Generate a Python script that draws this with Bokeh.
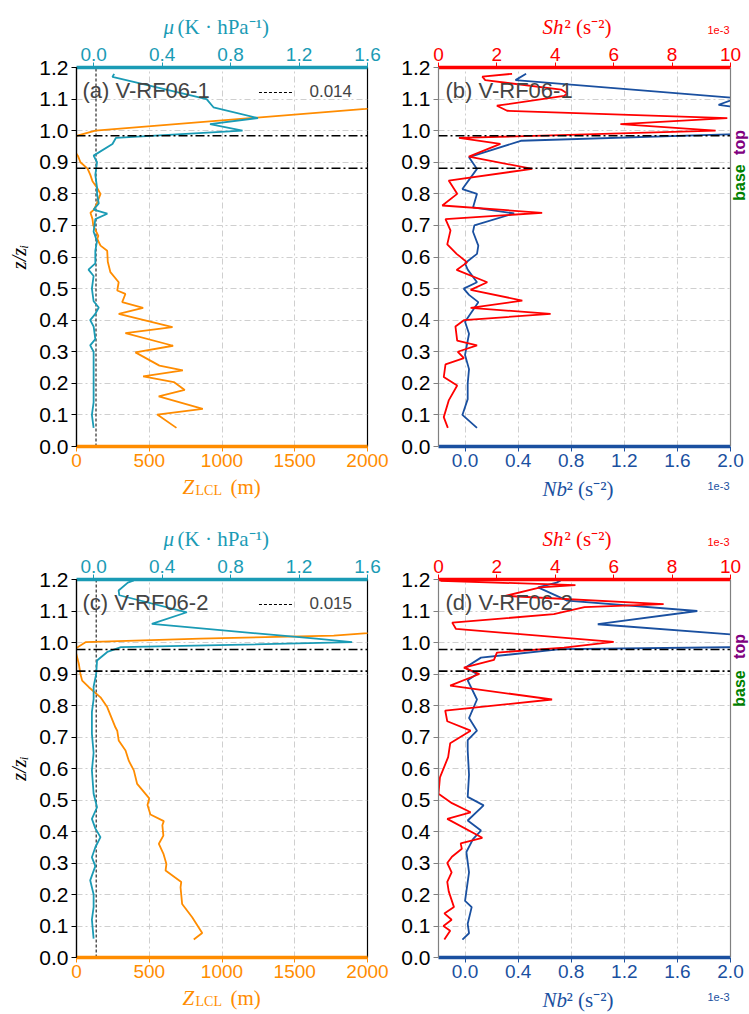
import numpy as np
from bokeh.plotting import figure
from bokeh.models import (Range1d, LinearAxis, FixedTicker, PrintfTickFormatter,
                          Span, Label, Legend, LegendItem, BoxAnnotation)
from bokeh.layouts import row, column
from bokeh.embed import file_html
from bokeh.resources import INLINE

# ---------------- data ----------------
z_ticks = [0.0, 0.1, 0.2, 0.3, 0.4, 0.5, 0.6, 0.7, 0.8, 0.9, 1.0, 1.1, 1.2]
lcl_ticks = [0, 500, 1000, 1500, 2000]
mu_ticks = [0.0, 0.4, 0.8, 1.2, 1.6]
sh_ticks = [0, 2, 4, 6, 8, 10]
nb_ticks = [0.0, 0.4, 0.8, 1.2, 1.6, 2.0]

panel_titles = ["(a) V-RF06-1", "(b) V-RF06-1", "(c) V-RF06-2", "(d) V-RF06-2"]
mu_ref = [0.014, 0.015]          # legend value of dashed line
inv_top = [0.984, 0.978]         # inversion top (z/zi)
inv_base = [0.881, 0.909]        # inversion base (z/zi)

# (a) V-RF06-1 : Z_LCL (m)
a_lcl_z = [0.059, 0.101, 0.119, 0.159, 0.179, 0.204, 0.222, 0.241, 0.256, 0.298,
           0.319, 0.359, 0.378, 0.420, 0.439, 0.457, 0.483, 0.494, 0.520, 0.552,
           0.585, 0.620, 0.636, 0.657, 0.667, 0.700, 0.720, 0.740, 0.750, 0.770,
           0.800, 0.820, 0.840, 0.860, 0.880, 0.900, 0.920, 0.930, 0.950, 0.970,
           0.984, 1.000, 1.069, 1.100]
a_lcl = [687, 555, 868, 565, 744, 669, 458, 731, 570, 405,
         664, 336, 660, 290, 458, 314, 336, 280, 290, 233,
         215, 211, 165, 143, 150, 115, 110, 96, 120, 140,
         165, 140, 110, 95, 76, 27, 10, -5, -40, -40,
         5, 130, 1986, 2800]
# (a) mu (K hPa-1)
a_mu_z = [0.059, 0.100, 0.140, 0.200, 0.260, 0.300, 0.320, 0.340, 0.380, 0.400,
          0.420, 0.440, 0.460, 0.500, 0.540, 0.560, 0.580, 0.620, 0.650, 0.680,
          0.720, 0.737, 0.750, 0.770, 0.800, 0.820, 0.860, 0.900, 0.921, 0.958,
          0.977, 1.000, 1.021, 1.040, 1.074, 1.100, 1.170, 1.180]
a_mu = [0.00, -0.01, 0.00, 0.00, 0.00, 0.00, -0.02, 0.01, 0.00, -0.02,
        0.01, 0.03, 0.00, -0.01, 0.00, -0.03, 0.01, 0.01, 0.02, 0.00,
        0.01, 0.08, 0.00, 0.03, 0.02, 0.02, 0.01, 0.02, 0.00, 0.11,
        0.13, 0.87, 0.68, 0.96, 0.70, 0.66, 0.11, 0.12]

# (b) V-RF06-1 : Sh^2 (1e-3 s-2)
b_sh_z = [0.059, 0.093, 0.146, 0.193, 0.220, 0.260, 0.280, 0.300, 0.320, 0.335,
          0.380, 0.400, 0.420, 0.439, 0.462, 0.496, 0.520, 0.559, 0.583, 0.610,
          0.640, 0.684, 0.720, 0.740, 0.763, 0.800, 0.842, 0.879, 0.918, 0.958,
          0.977, 1.000, 1.021, 1.040, 1.063, 1.079, 1.110, 1.118, 1.130, 1.160,
          1.171, 1.180]
b_sh = [0.32, 0.18, 0.35, 0.64, 0.18, 0.24, 0.87, 0.66, 1.32, 0.64,
        0.58, 0.87, 3.84, 1.10, 2.87, 1.10, 1.67, 0.62, 0.98, 0.62,
        0.30, 0.41, 0.24, 3.55, 0.13, 0.64, 0.35, 3.21, 1.04, 2.12,
        0.70, 9.49, 6.23, 9.89, 2.35, 2.00, 4.30, 4.41, 4.20, 1.60,
        1.50, 2.52]
# (b) Nb^2 (1e-3 s-2)
b_nb_z = [0.059, 0.100, 0.150, 0.200, 0.245, 0.290, 0.357, 0.395, 0.457, 0.480,
          0.500, 0.520, 0.560, 0.580, 0.610, 0.636, 0.680, 0.700, 0.738, 0.757,
          0.800, 0.815, 0.879, 0.916, 0.968, 0.990, 1.030, 1.074, 1.082, 1.103,
          1.160, 1.180]
b_nb = [0.09, -0.02, 0.02, 0.02, 0.03, 0.00, 0.03, 0.00, 0.10, 0.03,
        -0.01, 0.09, 0.02, 0.00, 0.09, 0.10, 0.06, 0.07, 0.37, 0.06,
        0.09, -0.02, 0.09, 0.03, 0.42, 2.10, 3.00, 2.05, 1.91, 2.05,
        0.38, 0.46]

# (c) V-RF06-2 : Z_LCL (m)
c_lcl_z = [0.057, 0.078, 0.128, 0.170, 0.223, 0.240, 0.276, 0.297, 0.330, 0.361,
           0.387, 0.420, 0.433, 0.454, 0.484, 0.505, 0.551, 0.594, 0.624, 0.657,
           0.689, 0.720, 0.730, 0.795, 0.826, 0.858, 0.879, 0.900, 0.932, 0.980,
           1.001, 1.012, 1.022, 1.030, 1.050]
c_lcl = [806, 864, 795, 726, 715, 720, 612, 618, 597, 566,
         597, 590, 600, 508, 488, 500, 417, 394, 360, 337,
         290, 280, 268, 211, 165, 85, 39, 27, 16, -10,
         62, 852, 1768, 2000, 2500]
# (c) mu
c_mu_z = [0.060, 0.120, 0.160, 0.200, 0.245, 0.290, 0.318, 0.350, 0.382, 0.410,
          0.440, 0.477, 0.520, 0.594, 0.650, 0.710, 0.780, 0.820, 0.860, 0.900,
          0.943, 0.970, 0.985, 1.001, 1.012, 1.059, 1.096, 1.150, 1.165, 1.190,
          1.197]
c_mu = [0.00, -0.01, 0.00, 0.00, -0.02, 0.01, -0.01, 0.01, 0.04, 0.01,
        -0.01, 0.02, 0.00, -0.01, 0.00, -0.01, -0.01, 0.00, 0.00, 0.015,
        0.02, 0.08, 0.16, 1.51, 1.30, 0.34, 0.545, 0.15, 0.146, 0.20,
        0.235]

# (d) V-RF06-2 : Sh^2
d_sh_z = [0.057, 0.085, 0.100, 0.120, 0.140, 0.160, 0.210, 0.240, 0.270, 0.300,
          0.320, 0.345, 0.362, 0.380, 0.440, 0.461, 0.490, 0.520, 0.572, 0.636,
          0.680, 0.720, 0.750, 0.784, 0.819, 0.863, 0.900, 0.920, 0.945, 0.968,
          0.984, 1.002, 1.043, 1.063, 1.090, 1.112, 1.122, 1.148, 1.175, 1.182,
          1.196]
d_sh = [0.20, 0.40, 0.17, 0.45, 0.20, 0.53, 0.35, 0.30, 0.45, 0.30,
        0.46, 0.80, 0.76, 1.50, 0.30, 1.10, 0.46, 0.00, 0.05, 0.33,
        0.40, 1.10, 0.30, 0.23, 3.89, 0.40, 1.40, 0.87, 1.90, 2.00,
        4.30, 6.00, 0.60, 0.47, 3.95, 5.00, 7.71, 2.29, 3.49, 4.69,
        0.07]
# (d) Nb^2
d_nb_z = [0.057, 0.077, 0.107, 0.160, 0.180, 0.270, 0.335, 0.376, 0.403, 0.435,
          0.483, 0.510, 0.580, 0.657, 0.690, 0.720, 0.760, 0.819, 0.880, 0.900,
          0.920, 0.952, 0.979, 0.986, 1.005, 1.026, 1.058, 1.100, 1.133, 1.175,
          1.190, 1.197]
d_nb = [-0.02, 0.03, 0.02, 0.05, 0.00, 0.03, 0.01, 0.06, 0.12, 0.02,
        0.14, 0.02, 0.03, 0.02, 0.02, 0.09, 0.03, 0.09, 0.02, 0.09,
        0.00, 0.12, 0.72, 2.20, 2.80, 2.00, 1.00, 1.75, 0.77, 0.55,
        0.69, 0.72]

# ---------------- style / layout ----------------
TEAL = "#1a9bb5"
ORANGE = "#ff8c00"
RED = "#ff0000"
BLUE = "#1a50a0"
GRIDC = "#cfcfcf"
SPINE_R = "#808080"
SANS = "Liberation Sans"
SERIF = "Liberation Serif"

LCL_RANGE = (0, 2000)
MU_RANGE = (-0.1, 1.6)
NB_RANGE = (-0.2, 2.0)
SH_RANGE = (0, 10)

PAGE_W = 749
W_L, W_R = 390, 359
# vertical bands: top strip, row 1, middle strip, row 2, bottom strip
H_S1, H_R1, H_SM, H_R2, H_S2 = 38, 438, 74, 437, 27
Y_R1 = H_S1
Y_SM = Y_R1 + H_R1
Y_R2 = Y_SM + H_SM
Y_S2 = Y_R2 + H_R2

# frames in page pixels (left, top, width, height)
FR_A = (76, 67, 291, 379)
FR_B = (438, 67, 292, 379)
FR_C = (76, 579, 291, 378)
FR_D = (438, 579, 292, 378)
RIGHT_PAD = PAGE_W - (FR_B[0] + FR_B[2])   # room for "top"/"base" tags


def style_axis(ax, ticks, fmt, label_color, line_color, line_width, fsize, standoff=3):
    ax.ticker = FixedTicker(ticks=ticks)
    ax.formatter = PrintfTickFormatter(format=fmt)
    ax.major_label_text_color = label_color
    ax.major_label_text_font = SANS
    ax.major_label_text_font_size = fsize
    ax.axis_line_color = line_color
    ax.axis_line_width = line_width
    ax.major_tick_line_color = line_color
    ax.major_tick_line_width = 1
    ax.major_tick_out = 5
    ax.major_tick_in = 0
    ax.minor_tick_line_color = None
    ax.major_label_standoff = standoff


def make_panel(width, height, left, top, fw, fh, xr, top_r, xticks, top_ticks,
               xfmt, top_fmt, bottom_col, top_col, spine_col, ylabel,
               xbounds="auto", top_bounds="auto"):
    p = figure(width=width, height=height, x_range=Range1d(*xr), y_range=Range1d(0, 1.2),
               output_backend="svg", toolbar_location=None,
               min_border_left=left, min_border_right=width - left - fw,
               min_border_top=top, min_border_bottom=height - top - fh)
    p.background_fill_color = "white"
    p.border_fill_color = "white"
    p.outline_line_color = spine_col
    p.outline_line_width = 1.2
    p.extra_x_ranges = {"top": Range1d(*top_r)}
    bax = p.below[0]
    style_axis(bax, xticks, xfmt, bottom_col, bottom_col, 3.5, "19px", 2)
    bax.bounds = xbounds
    yax = p.left[0]
    style_axis(yax, z_ticks, "%.1f", "black", spine_col, 1.2, "21px", 3)
    if ylabel:
        yax.axis_label = ylabel
        yax.axis_label_text_font = SERIF
        yax.axis_label_text_font_style = "italic"
        yax.axis_label_text_font_size = "20px"
        yax.axis_label_text_color = "black"
        yax.axis_label_standoff = 6
    tax = LinearAxis(x_range_name="top")
    style_axis(tax, top_ticks, top_fmt, top_col, top_col, 3.5, "19px", 2)
    tax.bounds = top_bounds
    p.add_layout(tax, "above")
    p.xgrid.ticker = FixedTicker(ticks=xticks)
    p.ygrid.ticker = FixedTicker(ticks=z_ticks)
    for g in (p.xgrid, p.ygrid):
        g.grid_line_color = GRIDC
        g.grid_line_dash = "6 3 2 3"
        g.grid_line_width = 1
    return p


def page_label(p, frame, xr, xpage, ypage, text, **kw):
    fl, ft, fw, fh = frame
    x = xr[0] + (xpage - fl) / fw * (xr[1] - xr[0])
    y = 1.2 * (1 - (ypage - ft) / fh)
    p.add_layout(Label(x=x, y=y, text=text, **kw))


def inversion_lines(p, i):
    for loc in (inv_top[i], inv_base[i]):
        p.add_layout(Span(location=loc, dimension="width", line_color="black",
                          line_dash="9 3 2 3", line_width=1.6))


def left_panel(i, height, frame, origin_y):
    fl, ft, fw, fh = frame
    p = make_panel(W_L, height, fl, ft - origin_y, fw, fh, LCL_RANGE, MU_RANGE,
                   lcl_ticks, mu_ticks, "%d", "%.1f", ORANGE, TEAL, "black", "z/zᵢ")
    lcl_z, lcl, mu_z, mu = [(a_lcl_z, a_lcl, a_mu_z, a_mu), (c_lcl_z, c_lcl, c_mu_z, c_mu)][i]
    inversion_lines(p, i)
    ref = p.line(x=[mu_ref[i], mu_ref[i]], y=[z_ticks[0], z_ticks[-1]], x_range_name="top",
                 line_color="black", line_dash="3 2", line_width=1)
    p.line(x=lcl, y=lcl_z, line_color=ORANGE, line_width=1.8)
    p.line(x=mu, y=mu_z, line_color=TEAL, line_width=1.8, x_range_name="top")
    leg = Legend(items=[LegendItem(label=f"{mu_ref[i]:.3f}", renderers=[ref])],
                 location="top_right", border_line_alpha=0, background_fill_alpha=0,
                 label_text_font=SANS, label_text_font_size="17px",
                 glyph_width=34, label_standoff=17, padding=10, margin=5, spacing=0)
    p.add_layout(leg)
    page_label(p, frame, LCL_RANGE, 82, ft + 23, panel_titles[2 * i],
               text_font=SANS, text_font_size="22px", text_baseline="middle")
    return p


def right_panel(i, height, frame, origin_y, top_y, base_y):
    fl, ft, fw, fh = frame
    ext = (fw + RIGHT_PAD) / fw
    nb_view = (NB_RANGE[0], NB_RANGE[0] + (NB_RANGE[1] - NB_RANGE[0]) * ext)
    sh_view = (SH_RANGE[0], SH_RANGE[0] + (SH_RANGE[1] - SH_RANGE[0]) * ext)
    p = make_panel(W_R, height, fl - W_L, ft - origin_y, fw + RIGHT_PAD, fh, nb_view, sh_view,
                   nb_ticks, sh_ticks, "%.1f", "%d", BLUE, RED, SPINE_R, None,
                   xbounds=NB_RANGE, top_bounds=SH_RANGE)
    p.outline_line_color = None
    nb_z, nb, sh_z, sh = [(b_nb_z, b_nb, b_sh_z, b_sh), (d_nb_z, d_nb, d_sh_z, d_sh)][i]
    inversion_lines(p, i)
    p.line(x=nb, y=nb_z, line_color=BLUE, line_width=1.8)
    p.line(x=sh, y=sh_z, line_color=RED, line_width=1.8, x_range_name="top")
    # blank margin to the right of the panel (room for the top/base tags)
    p.add_layout(BoxAnnotation(left=NB_RANGE[1], fill_color="white", fill_alpha=1.0,
                               line_color=None))
    p.add_layout(Span(location=NB_RANGE[1], dimension="height", line_color=SPINE_R,
                      line_width=1.2))
    fr = (fl, ft, fw + RIGHT_PAD, fh)
    page_label(p, fr, nb_view, 445, ft + 23, panel_titles[2 * i + 1],
               text_font=SANS, text_font_size="22px", text_baseline="middle")
    page_label(p, fr, nb_view, 739, top_y, "top", text_font=SANS,
               text_font_style="bold", text_font_size="16px", text_color="#800080",
               text_align="center", text_baseline="middle", angle=np.pi / 2)
    page_label(p, fr, nb_view, 739, base_y, "base", text_font=SANS,
               text_font_style="bold", text_font_size="16px", text_color="#008000",
               text_align="center", text_baseline="middle", angle=np.pi / 2)
    return p


def strip(height, y0):
    s = figure(width=PAGE_W, height=height, x_range=Range1d(0, PAGE_W),
               y_range=Range1d(y0 + height, y0), output_backend="svg",
               toolbar_location=None, min_border=0, min_border_left=0,
               min_border_right=0, min_border_top=0, min_border_bottom=0,
               x_axis_location=None, y_axis_location=None)
    s.outline_line_color = None
    s.background_fill_color = "white"
    s.border_fill_color = "white"
    s.grid.visible = False
    return s


def txt(s, x, y, text, **kw):
    s.add_layout(Label(x=x, y=y, text=text, text_baseline="middle", **kw))


def top_titles(s, ft):
    mid = ft - 41
    txt(s, 163, mid, "μ", text_font=SERIF, text_font_style="italic",
        text_font_size="21px", text_color=TEAL)
    txt(s, 177, mid, "(K · hPa⁻¹)", text_font=SERIF, text_font_size="21px",
        text_color=TEAL)
    txt(s, 542, mid, "Sh", text_font=SERIF, text_font_style="italic",
        text_font_size="21px", text_color=RED)
    txt(s, 564, mid, "² (s⁻²)", text_font=SERIF, text_font_size="21px",
        text_color=RED)
    txt(s, 718, ft - 38, "1e-3", text_font=SANS, text_font_size="11px",
        text_color=RED, text_align="center")


def bottom_titles(s, fb):
    txt(s, 182, fb + 40, "Z", text_font=SERIF, text_font_style="italic",
        text_font_size="21px", text_color=ORANGE)
    txt(s, 195, fb + 44, "LCL", text_font=SERIF, text_font_size="14px",
        text_color=ORANGE)
    txt(s, 230, fb + 40, "(m)", text_font=SERIF, text_font_size="21px",
        text_color=ORANGE)
    txt(s, 542, fb + 42, "Nb", text_font=SERIF, text_font_style="italic",
        text_font_size="21px", text_color=BLUE)
    txt(s, 566, fb + 42, "² (s⁻²)", text_font=SERIF, text_font_size="21px",
        text_color=BLUE)
    txt(s, 718, fb + 39, "1e-3", text_font=SANS, text_font_size="11px",
        text_color=BLUE, text_align="center")


s1 = strip(H_S1, 0)
top_titles(s1, FR_A[1])
sm = strip(H_SM, Y_SM)
bottom_titles(sm, FR_A[1] + FR_A[3])
top_titles(sm, FR_C[1])
s2 = strip(H_S2, Y_S2)
bottom_titles(s2, FR_C[1] + FR_C[3])

pa = left_panel(0, H_R1, FR_A, Y_R1)
pb = right_panel(0, H_R1, FR_B, Y_R1, 142, 182)
pc = left_panel(1, H_R2, FR_C, Y_R2)
pd = right_panel(1, H_R2, FR_D, Y_R2, 646, 688)

layout = column(s1, row(pa, pb, spacing=0), sm, row(pc, pd, spacing=0), s2, spacing=0)

with open("out.html", "w") as f:
    f.write(file_html(layout, INLINE))
